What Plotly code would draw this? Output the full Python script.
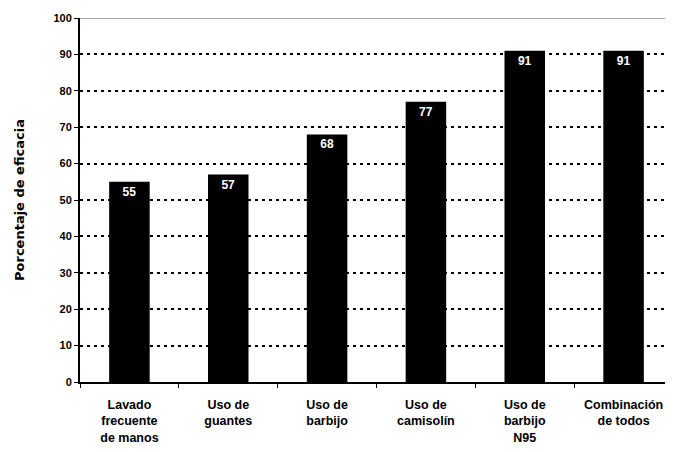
import plotly.graph_objects as go

categories = ["Lavado<br>frecuente<br>de manos", "Uso de<br>guantes", "Uso de<br>barbijo",
              "Uso de<br>camisolín", "Uso de<br>barbijo<br>N95", "Combinación<br>de todos"]
values = [55, 57, 68, 77, 91, 91]
y_ticks = [0, 10, 20, 30, 40, 50, 60, 70, 80, 90, 100]

FONT = "Liberation Sans, Arial, sans-serif"
WIDE = "DejaVu Sans, sans-serif"

fig = go.Figure()
fig.add_trace(go.Bar(
    x=categories, y=values,
    marker=dict(color="black", line=dict(width=0)),
    text=[str(v) for v in values],
    textposition="inside", insidetextanchor="end",
    textfont=dict(color="white", size=12, family=FONT, weight="bold"),
    textangle=0,
))

fig.update_layout(
    width=673, height=452,
    margin=dict(l=72, r=8, t=10, b=78),
    paper_bgcolor="white", plot_bgcolor="white",
    bargap=0.59, showlegend=False,
    font=dict(family=FONT, color="black", size=12, weight="bold"),
    xaxis=dict(
        automargin=False,
        showline=True, linecolor="black", linewidth=2,
        ticks="outside", tickson="boundaries", ticklen=4, tickcolor="black",
        showgrid=False, ticklabelstandoff=10,
        tickfont=dict(size=12.5, family=FONT, weight="bold"),
    ),
    yaxis=dict(
        automargin=False,
        range=[0, 100], tickvals=y_ticks,
        showline=True, linecolor="black", linewidth=2,
        ticks="outside", ticklen=4, tickcolor="black",
        showgrid=True, gridcolor="black", griddash="3px,4px", gridwidth=1.5,
        zeroline=False,
        tickfont=dict(size=11, family=FONT, weight="bold"),
        title=dict(text="Porcentaje de eficacia", font=dict(size=13, family=WIDE, weight="bold"),
                   standoff=26),
    ),
)
fig.add_shape(type="line", xref="paper", yref="y", x0=0, x1=1, y0=100, y1=100,
              line=dict(color="#888888", width=1.5))

fig.write_html("out.html")
